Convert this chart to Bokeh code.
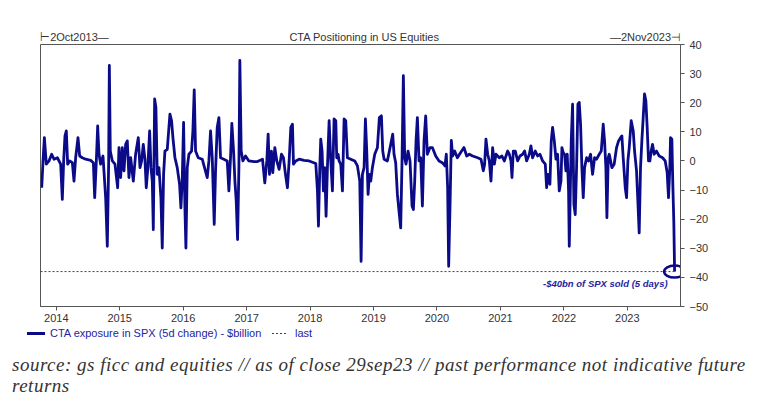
from bokeh.plotting import figure
from bokeh.layouts import column
from bokeh.models import FixedTicker, Range1d, LinearAxis, Label, Div
from bokeh.embed import file_html
from bokeh.resources import INLINE

# ---- data (decimal years, $bn 5-day change) ----
dates_a = [2013.770, 2013.791, 2013.812, 2013.843, 2013.885, 2013.927, 2013.964, 2014.017, 2014.069, 2014.095,
           2014.116, 2014.137, 2014.158, 2014.179, 2014.211, 2014.253, 2014.279, 2014.305, 2014.342, 2014.368,
           2014.410, 2014.463, 2014.542, 2014.584, 2014.605, 2014.631, 2014.652, 2014.673, 2014.699, 2014.736,
           2014.778, 2014.804, 2014.825, 2014.836, 2014.851, 2014.883, 2014.925, 2014.967, 2014.988, 2015.014,
           2015.040, 2015.067, 2015.093, 2015.119, 2015.145, 2015.172, 2015.214, 2015.250, 2015.292, 2015.319,
           2015.345, 2015.371, 2015.397, 2015.418, 2015.439, 2015.471, 2015.492, 2015.513, 2015.529, 2015.550,
           2015.570, 2015.591, 2015.618, 2015.649, 2015.670, 2015.691, 2015.712, 2015.749, 2015.791, 2015.817,
           2015.838, 2015.870, 2015.906, 2015.943, 2015.964, 2015.985, 2016.006, 2016.027, 2016.043, 2016.064,
           2016.090, 2016.132, 2016.153, 2016.174, 2016.195, 2016.237, 2016.300, 2016.379, 2016.405, 2016.431,
           2016.458, 2016.489, 2016.510, 2016.536, 2016.563, 2016.589, 2016.641, 2016.694, 2016.720, 2016.746,
           2016.767, 2016.794, 2016.815, 2016.836, 2016.857, 2016.878, 2016.893, 2016.914, 2016.941, 2016.983,
           2017.035, 2017.114]
values_a = [-9.2, 0, 8.0, -1.1, 0, 2.3, 0.6, 1.1, -1.1, -13.2,
            0, 8.6, 10.3, -1.1, 0, -0.6, -6.9, 1.1, 8.0, 1.7,
            1.1, 0.6, 0.2, -0.6, -12.6, 0, 12.0, 2.3, -1.1, 1.7,
            -12.6, -29.3, -1.1, 32.8, 3.4, 0, -1.1, -9.2, 4.6, -5.7,
            4.6, -3.4, 5.7, 6.9, -5.7, 1.1, -6.9, 2.3, 8.0, -2.3,
            0, 5.7, 0.6, -9.2, -3.4, 10.3, -2.3, -6.9, -23.6, 21.3,
            18.4, -4.6, -2.3, -12.6, -29.9, -4.6, 3.4, 4.0, 16.1, 13.8,
            8.0, 1.1, -2.3, -8.0, -16.1, -6.9, 13.2, -16.1, -29.9, -2.3,
            2.3, 3.4, 10.3, 24.4, 3.4, 1.1, 0.6, -5.7, 0, 10.3,
            1.1, -21.8, -3.4, 11.5, 14.9, 1.1, 0.6, 0, -10.3, 1.1,
            12.9, 3.4, -6.9, -13.8, -27.0, -2.3, 34.5, 3.4, 0, 1.7,
            0, -0.2]

dates_b = [2017.171, 2017.250, 2017.286, 2017.318, 2017.339, 2017.360, 2017.391, 2017.412, 2017.444, 2017.475,
           2017.512, 2017.549, 2017.580, 2017.612, 2017.643, 2017.670, 2017.696, 2017.722, 2017.738, 2017.775,
           2017.827, 2017.906, 2017.985, 2018.090, 2018.116, 2018.132, 2018.153, 2018.168, 2018.189, 2018.210,
           2018.231, 2018.252, 2018.273, 2018.300, 2018.326, 2018.352, 2018.378, 2018.405, 2018.420, 2018.441,
           2018.457, 2018.483, 2018.510, 2018.536, 2018.562, 2018.588, 2018.641, 2018.704, 2018.746, 2018.783,
           2018.804, 2018.825, 2018.851, 2018.872, 2018.893, 2018.914, 2018.935, 2018.956, 2018.982, 2019.019,
           2019.061, 2019.092, 2019.124, 2019.145, 2019.166, 2019.218, 2019.271, 2019.302, 2019.323, 2019.349,
           2019.376, 2019.407, 2019.428, 2019.449, 2019.470, 2019.491, 2019.512, 2019.544, 2019.575, 2019.607,
           2019.628, 2019.649, 2019.670, 2019.691, 2019.717, 2019.743, 2019.770, 2019.796, 2019.822, 2019.848,
           2019.890, 2019.927, 2019.980, 2020.032, 2020.084, 2020.126, 2020.147, 2020.168, 2020.184, 2020.205,
           2020.226, 2020.247, 2020.279, 2020.321, 2020.373, 2020.425]
values_b = [-0.2, 0.6, -7.5, 0, 9.2, -4.6, 3.4, -4.0, 4.6, 0,
            -2.9, 2.3, 1.1, -4.6, -9.2, 0, 11.5, 12.6, -1.1, 0,
            0.6, 0.2, 0, -0.9, -10.3, -22.4, -2.3, 7.5, 3.4, -10.3,
            -2.3, -19.0, -2.3, 13.8, 0, -10.3, 14.4, 13.8, 1.1, 2.3,
            0, -1.1, -10.3, 14.4, 13.8, 1.1, 0.6, 0, -1.7, -6.9,
            -34.5, -4.6, -2.3, 14.4, 3.4, -11.5, -4.6, -6.9, -2.3, 2.3,
            4.6, 14.9, 15.5, 3.4, 0.6, 0, 5.7, 9.2, 2.3, -0.6,
            -11.5, -18.4, -23.0, 0, 29.3, 1.1, -1.1, 3.4, 0, -15.5,
            -16.7, -6.9, 6.9, 14.9, 0, 1.1, -15.5, 6.9, 15.5, 2.3,
            4.6, 4.6, 1.7, 0, -0.6, -1.7, 2.3, -9.2, -36.2, -16.1,
            7.1, 1.7, 3.4, 1.1, 2.9, 4.6]

dates_c = [2020.468, 2020.510, 2020.562, 2020.641, 2020.694, 2020.730, 2020.751, 2020.772, 2020.799, 2020.825,
           2020.851, 2020.877, 2020.904, 2020.930, 2020.982, 2021.024, 2021.061, 2021.114, 2021.140, 2021.166,
           2021.182, 2021.203, 2021.234, 2021.271, 2021.308, 2021.350, 2021.381, 2021.413, 2021.455, 2021.481,
           2021.507, 2021.549, 2021.586, 2021.623, 2021.665, 2021.707, 2021.728, 2021.749, 2021.780, 2021.801,
           2021.822, 2021.849, 2021.875, 2021.901, 2021.927, 2021.954, 2021.969, 2021.990, 2022.011, 2022.032,
           2022.053, 2022.074, 2022.085, 2022.101, 2022.116, 2022.137, 2022.158, 2022.179, 2022.200, 2022.221,
           2022.242, 2022.263, 2022.284, 2022.305, 2022.326, 2022.358, 2022.389, 2022.421, 2022.452, 2022.484,
           2022.515, 2022.557, 2022.589, 2022.620, 2022.641, 2022.662, 2022.678, 2022.699, 2022.715, 2022.757,
           2022.793, 2022.830, 2022.862, 2022.893, 2022.914, 2022.935, 2022.967, 2022.988, 2023.009, 2023.030,
           2023.061, 2023.093, 2023.114, 2023.145, 2023.166, 2023.187, 2023.208, 2023.229, 2023.250, 2023.271,
           2023.292, 2023.313, 2023.334, 2023.355, 2023.376, 2023.397, 2023.423, 2023.460, 2023.502, 2023.555,
           2023.597, 2023.628, 2023.649, 2023.670, 2023.681, 2023.702, 2023.717, 2023.733, 2023.745]
values_c = [1.7, 2.3, 1.7, 1.1, 0.6, -3.4, -1.1, 7.5, 2.3, 0,
            -6.9, 4.6, -1.1, 2.3, 1.1, 1.7, 0, 3.4, 2.3, 0,
            -5.7, 3.4, 3.4, 0, 1.7, 2.3, 3.4, 0, 2.3, 5.2,
            1.1, 3.4, 1.7, 2.3, 0, -1.1, -9.2, -4.6, -8.0, 6.9,
            11.5, 6.9, 0.6, 2.3, -10.3, -6.9, 4.6, 2.9, 2.3, -3.4,
            2.3, -10.3, -29.3, -10.3, 6.9, 19.5, -14.9, -18.4, -2.3, 19.5,
            20.1, 12.6, -2.3, -12.6, -2.3, 1.1, 0, 2.3, -4.6, 1.1,
            0.6, 2.3, 3.4, 12.6, 6.9, -2.3, -19.5, 1.1, 2.3, -2.3,
            -1.1, 4.6, 6.9, 8.0, 8.6, 1.1, -9.2, -12.6, 0, 4.6,
            13.8, 10.3, 3.4, -3.4, -13.8, -24.7, -2.3, 6.9, 14.9, 23.0,
            20.7, 11.5, 0, 0, 3.4, 5.7, 2.3, 3.4, 1.7, 1.1,
            0, -4.0, -12.6, -2.3, 8.0, 7.5, -8.0, -21.3, -38.0]

start_date = 2013.751   # 2 Oct 2013
end_date = 2023.838     # 2 Nov 2023
last_value = -38.0
last_date = 2023.745
year_ticks = [2014, 2015, 2016, 2017, 2018, 2019, 2020, 2021, 2022, 2023]
year_labels = ["2014", "2015", "2016", "2017", "2018", "2019", "2020", "2021", "2022", "2023"]
y_ticks = [-50, -40, -30, -20, -10, 0, 10, 20, 30, 40]

title_text = "CTA Positioning in US Equities"
start_text = "\u22a22Oct2013\u2014"
end_text = "\u20142Nov2023\u22a3"
series_label = "CTA exposure in SPX (5d change) - $billion"
last_label = "last"
note_text = "-$40bn of SPX sold (5 days)"
source_line1 = "source: gs ficc and equities // as of close 29sep23 // past performance not indicative future"
source_line2 = "returns"

dates = dates_a + dates_b + dates_c
values = values_a + values_b + values_c

NAVY = "#0b0b8a"
BLUE_TXT = "#2424a0"
DASH_C = "#3535a8"
AX = "#555555"
TXT = "#333333"
W = 760
FRAME_W = 640

# ---------------- main chart ----------------
p = figure(width=W, height=327, output_backend="svg", toolbar_location=None,
           x_range=Range1d(start_date, end_date), y_range=Range1d(-50, 40),
           y_axis_location="right",
           min_border_left=40, min_border_right=80, min_border_top=44, min_border_bottom=21)
p.grid.visible = False
p.outline_line_color = AX
p.outline_line_width = 1

main = p.line(dates, values, line_color=NAVY, line_width=2.8, line_join="round")
dash = p.line([start_date, last_date], [last_value, last_value], line_color=DASH_C,
              line_width=1, line_dash="2 2")
p.ellipse(x=[last_date], y=[last_value], width=21, height=12, width_units="screen",
          height_units="screen", fill_alpha=0, line_color=NAVY, line_width=2.5)

for ax in (p.xaxis[0], p.yaxis[0]):
    ax.major_tick_in = 0
    ax.major_tick_out = 4
    ax.minor_tick_in = 0
    ax.minor_tick_out = 0
    ax.axis_line_color = AX
    ax.major_tick_line_color = AX
    ax.major_label_text_font = "Liberation Sans"
    ax.major_label_text_font_size = "11px"
    ax.major_label_text_color = TXT
p.xaxis.ticker = FixedTicker(ticks=year_ticks)
p.xaxis.major_label_overrides = dict(zip(year_ticks, year_labels))
p.xaxis.major_label_standoff = 3
p.yaxis.ticker = FixedTicker(ticks=y_ticks)
p.yaxis.major_label_standoff = 5

# header row: range-start label, title, range-end label (label-only axis above the frame)
span = end_date - start_date
def at_px(px):
    return round(start_date + px / FRAME_W * span, 4)
head_ticks = [at_px(34), at_px(324), at_px(605)]
top_axis = LinearAxis(ticker=FixedTicker(ticks=head_ticks),
                      major_label_overrides=dict(zip(head_ticks, [start_text, title_text, end_text])),
                      axis_line_color=None, major_tick_line_color=None, minor_tick_line_color=None,
                      major_tick_out=0, major_tick_in=0, minor_tick_out=0, minor_tick_in=0,
                      major_label_standoff=2, major_label_text_font="Liberation Sans",
                      major_label_text_font_size="11px", major_label_text_color=TXT)
p.add_layout(top_axis, "above")

p.add_layout(Label(x=last_date, y=last_value, x_offset=-7, y_offset=-12, text=note_text,
                   text_align="right", text_baseline="middle", text_font="Liberation Sans",
                   text_font_size="9.5px", text_font_style="bold italic", text_color=BLUE_TXT))

# ---------------- footer: legend row + source note ----------------
FH = 69
sans = "font-family:'Liberation Sans',Arial,sans-serif;font-size:11px;line-height:12px;"
footer_html = (
    f'<div style="position:relative;width:{W}px;height:{FH}px;">'
    f'<div style="position:absolute;left:27px;top:5px;width:18px;height:3px;background:{NAVY};"></div>'
    f'<div style="position:absolute;left:50px;top:0px;{sans}color:{BLUE_TXT};white-space:nowrap;">'
    f'{series_label}</div>'
    f'<div style="position:absolute;left:272px;top:6px;width:15px;height:1px;'
    f'background:repeating-linear-gradient(to right,{DASH_C} 0px,{DASH_C} 2px,transparent 2px,transparent 4px);"></div>'
    f'<div style="position:absolute;left:295px;top:0px;{sans}color:{BLUE_TXT};white-space:nowrap;">'
    f'{last_label}</div>'
    f'<div style="position:absolute;left:12px;top:27px;font-family:\'Liberation Serif\',serif;'
    f'font-style:italic;font-size:19px;line-height:21px;letter-spacing:0.5px;color:{TXT};white-space:nowrap;">'
    f'{source_line1}<br>{source_line2}</div>'
    '</div>'
)
footer = Div(text=footer_html, width=W, height=FH, margin=0, disable_math=True)

layout = column(p, footer, spacing=0)
open("out.html", "w").write(file_html(layout, INLINE))
